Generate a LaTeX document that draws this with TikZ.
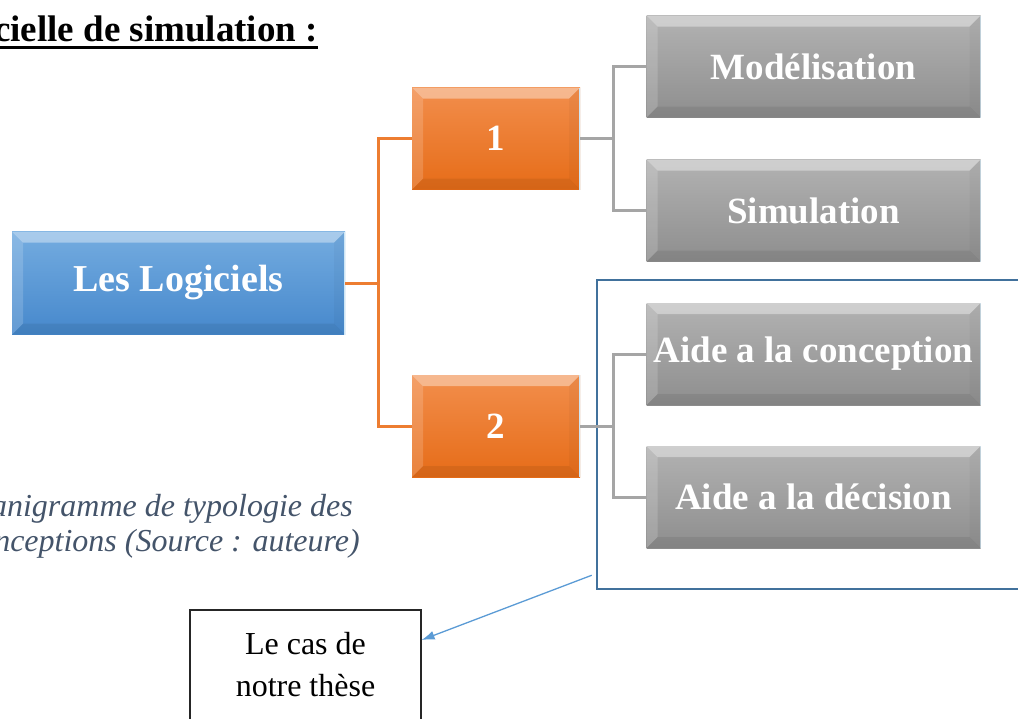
\documentclass[tikz,border=0pt]{standalone}
\usepackage{fontspec}
\setmainfont{Liberation Serif}
\usetikzlibrary{arrows.meta}

\definecolor{blueTop}{RGB}{116,172,224}
\definecolor{blueBot}{RGB}{70,136,204}
\definecolor{orTop}{RGB}{242,142,76}
\definecolor{orBot}{RGB}{230,108,24}
\definecolor{grTop}{RGB}{178,178,178}
\definecolor{grBot}{RGB}{142,142,142}
\definecolor{orLine}{RGB}{237,125,49}
\definecolor{grLine}{RGB}{165,165,165}
\definecolor{frameCol}{RGB}{65,113,156}
\definecolor{arrowCol}{RGB}{91,155,213}
\definecolor{capCol}{RGB}{68,84,106}
\definecolor{edgeCol}{RGB}{205,230,245}

\def\bv{11pt}
\tikzset{
  bevel/.style={path picture={
    \path (path picture bounding box.north west) coordinate (pNW)
          (path picture bounding box.north east) coordinate (pNE)
          (path picture bounding box.south west) coordinate (pSW)
          (path picture bounding box.south east) coordinate (pSE);
    \path ([shift={(\bv,-\bv)}]pNW) coordinate (qNW)
          ([shift={(-\bv,-\bv)}]pNE) coordinate (qNE)
          ([shift={(\bv,\bv)}]pSW) coordinate (qSW)
          ([shift={(-\bv,\bv)}]pSE) coordinate (qSE);
    \fill[white,opacity=.38] (pNW) -- (pNE) -- (qNE) -- (qNW) -- cycle;
    \fill[white,opacity=.16] (pNW) -- (qNW) -- (qSW) -- (pSW) -- cycle;
    \fill[black,opacity=.07] (pSW) -- (qSW) -- (qSE) -- (pSE) -- cycle;
    \fill[black,opacity=.03] (pNE) -- (pSE) -- (qSE) -- (qNE) -- cycle;
    \draw[edgeCol,line width=2pt] (pNE) -- (pSE);
  }},
  boxbase/.style={rectangle, inner sep=0pt, bevel, text=white,
    font=\bfseries\fontsize{37}{44}\selectfont},
  rootbox/.style={boxbase, top color=blueTop, bottom color=blueBot,
    minimum width=333pt, minimum height=103pt,
    font=\bfseries\fontsize{38}{46}\selectfont},
  numbox/.style={boxbase, top color=orTop, bottom color=orBot,
    minimum width=168pt, minimum height=102pt},
  leafbox/.style={boxbase, top color=grTop, bottom color=grBot,
    minimum width=334pt, minimum height=102pt},
  orlink/.style={orLine, line width=3pt},
  grlink/.style={grLine, line width=3pt},
  caseframe/.style={draw=frameCol, line width=2.5pt, rectangle,
    minimum width=429pt, minimum height=309pt},
  notebox/.style={draw=black!85, line width=1.2pt, rectangle, align=center,
    minimum width=231pt, minimum height=110pt,
    font=\fontsize{32}{42}\selectfont},
  caption/.style={inner sep=0pt, text=capCol,
    font=\itshape\fontsize{32}{36}\selectfont},
}

\begin{document}
\begin{tikzpicture}[x=1pt,y=-1pt]
\useasboundingbox (0,0) rectangle (1018,718);

% heading (underlined)
\node[inner sep=0pt, anchor=base east, font=\bfseries\fontsize{37}{44}\selectfont]
  (head) at (318,41) {cielle de simulation :};
\draw[line width=3pt] ([yshift=-6pt]head.base west) -- ([yshift=-6pt]head.base east);

% frame around the second group
\node[caseframe] (case) at (811.5,434.5) {};

% boxes
\node[rootbox] (root) at (178.5,283) {Les Logiciels};
\node[numbox] (n1) at (496,138.5) {1};
\node[numbox] (n2) at (496,426) {2};
\node[leafbox] (g1) at (813.5,66.5) {Modélisation};
\node[leafbox] (g2) at (813.5,210.5) {Simulation};
\node[leafbox] (g3) at (813.5,354) {Aide a la conception};
\node[leafbox] (g4) at (813.5,497) {Aide a la décision};

% tree links
\draw[orlink] (root.east) -- ++(33,0) |- (n1.west);
\draw[orlink] (root.east) -- ++(33,0) |- (n2.west);
\draw[grlink] (n1.east) -- ++(33,0) |- (g1.west);
\draw[grlink] (n1.east) -- ++(33,0) |- (g2.west);
\draw[grlink] (n2.east) -- ++(33,0) |- (g3.west);
\draw[grlink] (n2.east) -- ++(33,0) |- (g4.west);

% caption
\node[caption, anchor=base east] (cap1) at (353,516) {anigramme de typologie des};
\node[caption, anchor=base east] (cap2) at (360,551) {nceptions (Source : auteure)};

% note box and its pointer
\node[notebox] (note) at (305.5,665) {Le cas de\\notre thèse};
\draw[arrowCol, line width=1.3pt, -{Latex[length=13pt,width=9pt]}]
  ([shift={(-4pt,15pt)}]case.south west) -- ([yshift=25pt]note.east);
\end{tikzpicture}
\end{document}
